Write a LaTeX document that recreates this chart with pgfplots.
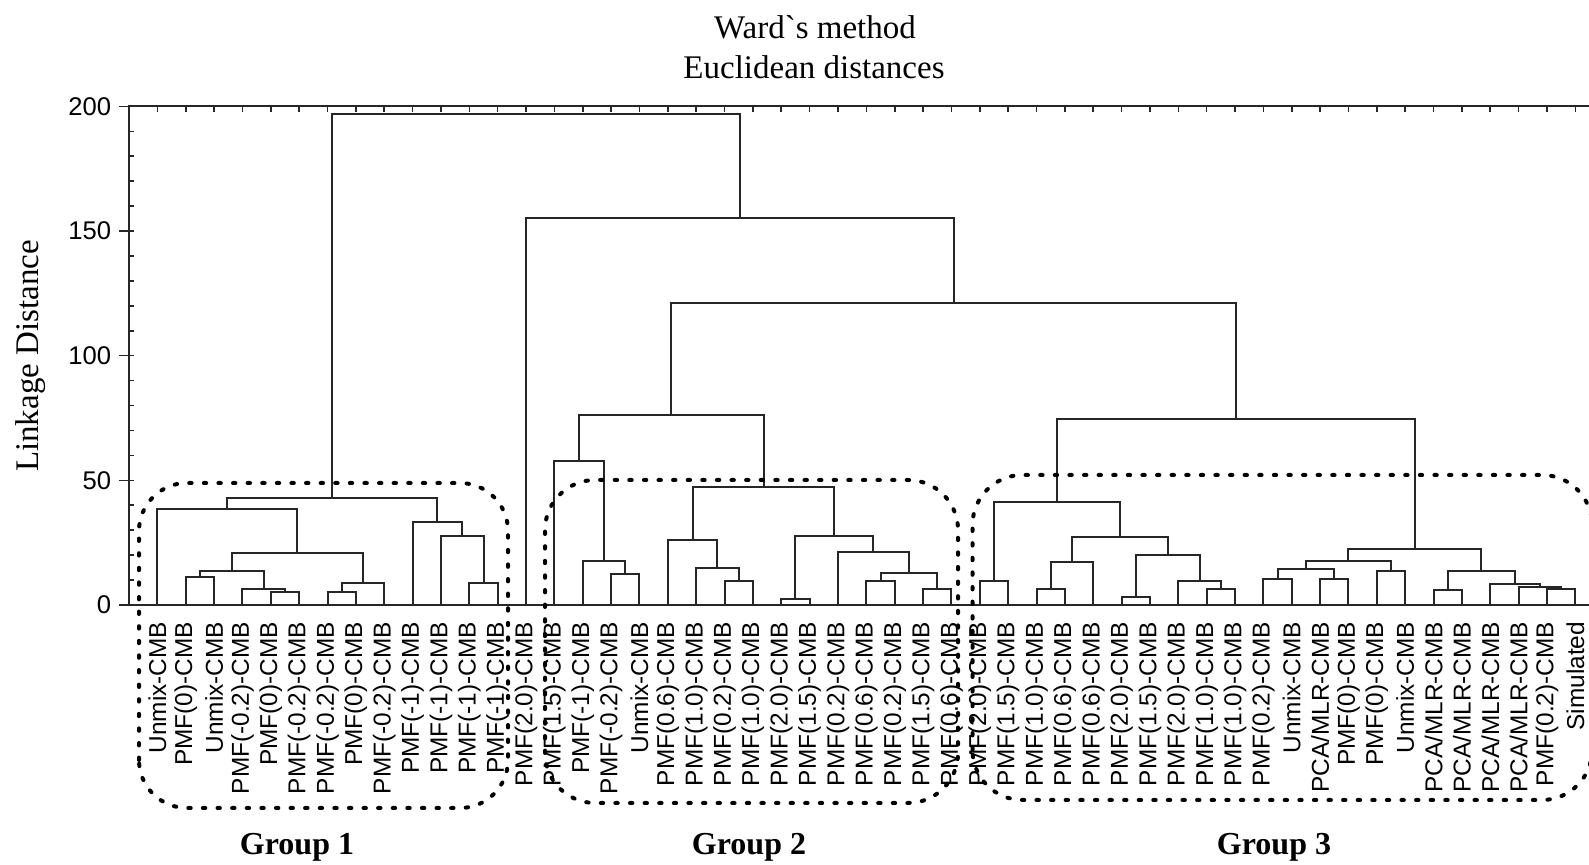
\documentclass[border=0pt]{standalone}
\usepackage{pgfplots}
\pgfplotsset{compat=1.18}
\usepackage{fontspec}
\setmainfont{Liberation Sans}
\newfontfamily\timesfont{Liberation Serif}

\begin{document}
\begin{tikzpicture}
\begin{axis}[
  at={(0pt,0pt)}, anchor=south west,
  scale only axis, width=737.36pt, height=249.3pt,
  xmin=0, xmax=52, ymin=0, ymax=200,
  clip=false,
  axis line style={black!85, line width=1pt},
  xtick={1,...,51},
  xticklabels={Unmix-CMB,PMF(0)-CMB,Unmix-CMB,PMF(-0.2)-CMB,PMF(0)-CMB,PMF(-0.2)-CMB,PMF(-0.2)-CMB,PMF(0)-CMB,PMF(-0.2)-CMB,PMF(-1)-CMB,PMF(-1)-CMB,PMF(-1)-CMB,PMF(-1)-CMB,PMF(2.0)-CMB,PMF(1.5)-CMB,PMF(-1)-CMB,PMF(-0.2)-CMB,Unmix-CMB,PMF(0.6)-CMB,PMF(1.0)-CMB,PMF(0.2)-CMB,PMF(1.0)-CMB,PMF(2.0)-CMB,PMF(1.5)-CMB,PMF(0.2)-CMB,PMF(0.6)-CMB,PMF(0.2)-CMB,PMF(1.5)-CMB,PMF(0.6)-CMB,PMF(2.0)-CMB,PMF(1.5)-CMB,PMF(1.0)-CMB,PMF(0.6)-CMB,PMF(0.6)-CMB,PMF(2.0)-CMB,PMF(1.5)-CMB,PMF(2.0)-CMB,PMF(1.0)-CMB,PMF(1.0)-CMB,PMF(0.2)-CMB,Unmix-CMB,PCA/MLR-CMB,PMF(0)-CMB,PMF(0)-CMB,Unmix-CMB,PCA/MLR-CMB,PCA/MLR-CMB,PCA/MLR-CMB,PCA/MLR-CMB,PMF(0.2)-CMB,Simulated},
  major x tick style={draw=none},
  minor xtick={1,...,51},
  xticklabel style={rotate=90, anchor=east, inner sep=0pt, font=\fontsize{12.2}{14}\selectfont},
  xticklabel shift=8.3pt,
  ytick={0,50,100,150,200},
  minor ytick={10,20,...,190},
  ytick pos=left,
  tick align=inside,
  major tick length=5pt,
  minor tick length=2.7pt,
  every tick/.style={black!85, line width=0.8pt},
  major y tick style={xshift=-5pt},
  yticklabel style={inner sep=0pt, font=\fontsize{12.8}{14}\selectfont},
  yticklabel shift=8.7pt,
  /pgf/number format/assume math mode=true,
  dend/.style={black!85, line width=1pt, mark=none},
]
% ---- Group 1 ----
\addplot[dend] coordinates {(2,0) (2,11.4) (3,11.4) (3,0)};
\addplot[dend] coordinates {(5,0) (5,5.35) (6,5.35) (6,0)};
\addplot[dend] coordinates {(4,0) (4,6.4) (5.5,6.4) (5.5,5.35)};
\addplot[dend] coordinates {(2.5,11.4) (2.5,13.6) (4.75,13.6) (4.75,6.4)};
\addplot[dend] coordinates {(7,0) (7,5.35) (8,5.35) (8,0)};
\addplot[dend] coordinates {(7.5,5.35) (7.5,9.0) (9,9.0) (9,0)};
\addplot[dend] coordinates {(3.625,13.6) (3.625,20.7) (8.25,20.7) (8.25,9.0)};
\addplot[dend] coordinates {(1,0) (1,38.5) (5.9375,38.5) (5.9375,20.7)};
\addplot[dend] coordinates {(12,0) (12,9.0) (13,9.0) (13,0)};
\addplot[dend] coordinates {(11,0) (11,27.8) (12.5,27.8) (12.5,9.0)};
\addplot[dend] coordinates {(10,0) (10,33.2) (11.75,33.2) (11.75,27.8)};
\addplot[dend] coordinates {(3.46875,38.5) (3.46875,43.0) (10.875,43.0) (10.875,33.2)};
% ---- Group 2 ----
\addplot[dend] coordinates {(17,0) (17,12.4) (18,12.4) (18,0)};
\addplot[dend] coordinates {(16,0) (16,17.8) (17.5,17.8) (17.5,12.4)};
\addplot[dend] coordinates {(15,0) (15,57.9) (16.75,57.9) (16.75,17.8)};
\addplot[dend] coordinates {(21,0) (21,9.5) (22,9.5) (22,0)};
\addplot[dend] coordinates {(20,0) (20,14.8) (21.5,14.8) (21.5,9.5)};
\addplot[dend] coordinates {(19,0) (19,26.1) (20.75,26.1) (20.75,14.8)};
\addplot[dend] coordinates {(23,0) (23,2.4) (24,2.4) (24,0)};
\addplot[dend] coordinates {(26,0) (26,9.5) (27,9.5) (27,0)};
\addplot[dend] coordinates {(28,0) (28,6.55) (29,6.55) (29,0)};
\addplot[dend] coordinates {(26.5,9.5) (26.5,13.0) (28.5,13.0) (28.5,6.55)};
\addplot[dend] coordinates {(25,0) (25,21.3) (27.5,21.3) (27.5,13.0)};
\addplot[dend] coordinates {(23.5,2.4) (23.5,27.8) (26.25,27.8) (26.25,21.3)};
\addplot[dend] coordinates {(19.875,26.1) (19.875,47.2) (24.875,47.2) (24.875,27.8)};
\addplot[dend] coordinates {(15.875,57.9) (15.875,76.2) (22.375,76.2) (22.375,47.2)};
% ---- Group 3 ----
\addplot[dend] coordinates {(30,0) (30,9.5) (31,9.5) (31,0)};
\addplot[dend] coordinates {(32,0) (32,6.55) (33,6.55) (33,0)};
\addplot[dend] coordinates {(32.5,6.55) (32.5,17.1) (34,17.1) (34,0)};
\addplot[dend] coordinates {(35,0) (35,3.1) (36,3.1) (36,0)};
\addplot[dend] coordinates {(38,0) (38,6.55) (39,6.55) (39,0)};
\addplot[dend] coordinates {(37,0) (37,9.6) (38.5,9.6) (38.5,6.55)};
\addplot[dend] coordinates {(35.5,3.1) (35.5,20.1) (37.75,20.1) (37.75,9.6)};
\addplot[dend] coordinates {(33.25,17.1) (33.25,27.1) (36.625,27.1) (36.625,20.1)};
\addplot[dend] coordinates {(30.5,9.5) (30.5,41.4) (34.9375,41.4) (34.9375,27.1)};
\addplot[dend] coordinates {(40,0) (40,10.3) (41,10.3) (41,0)};
\addplot[dend] coordinates {(42,0) (42,10.3) (43,10.3) (43,0)};
\addplot[dend] coordinates {(40.5,10.3) (40.5,14.3) (42.5,14.3) (42.5,10.3)};
\addplot[dend] coordinates {(44,0) (44,13.6) (45,13.6) (45,0)};
\addplot[dend] coordinates {(41.5,14.3) (41.5,17.8) (44.5,17.8) (44.5,13.6)};
\addplot[dend] coordinates {(46,0) (46,5.9) (47,5.9) (47,0)};
\addplot[dend] coordinates {(50,0) (50,6.55) (51,6.55) (51,0)};
\addplot[dend] coordinates {(49,0) (49,7.2) (50.5,7.2) (50.5,6.55)};
\addplot[dend] coordinates {(48,0) (48,8.3) (49.75,8.3) (49.75,7.2)};
\addplot[dend] coordinates {(46.5,5.9) (46.5,13.6) (48.875,13.6) (48.875,8.3)};
\addplot[dend] coordinates {(43,17.8) (43,22.6) (47.6875,22.6) (47.6875,13.6)};
\addplot[dend] coordinates {(32.71875,41.4) (32.71875,74.5) (45.34375,74.5) (45.34375,22.6)};
% ---- upper levels ----
\addplot[dend] coordinates {(19.125,76.2) (19.125,121.0) (39.03125,121.0) (39.03125,74.5)};
\addplot[dend] coordinates {(14,0) (14,155.2) (29.078125,155.2) (29.078125,121.0)};
\addplot[dend] coordinates {(7.171875,43.0) (7.171875,196.9) (21.5390625,196.9) (21.5390625,155.2)};
\end{axis}

% titles and axis caption
\node[font=\timesfont\fontsize{16.5}{18}\selectfont] at (343pt,288.8pt) {Ward\textasciigrave s method};
\node[font=\timesfont\fontsize{16.5}{18}\selectfont] at (342.5pt,269pt) {Euclidean distances};
\node[rotate=90, font=\timesfont\fontsize{16.5}{18}\selectfont] at (-49.3pt,124.5pt) {Linkage Distance};

% cluster outlines
\tikzset{dotbox/.style={black, line width=2pt, dash pattern=on 1.2pt off 6.1pt, line cap=round}}
\draw[dotbox, rounded corners=24pt] (5pt,-101.5pt) rectangle (189.5pt,61pt);
\draw[dotbox, rounded corners=25pt] (208pt,-99pt) rectangle (414.5pt,62.5pt);
\draw[dotbox, rounded corners=25pt] (421.75pt,-97.5pt) rectangle (731.5pt,65pt);

\node[font=\timesfont\bfseries\fontsize{16}{18}\selectfont] at (84pt,-121pt) {Group 1};
\node[font=\timesfont\bfseries\fontsize{16}{18}\selectfont] at (310pt,-121pt) {Group 2};
\node[font=\timesfont\bfseries\fontsize{16}{18}\selectfont] at (572.5pt,-121pt) {Group 3};

\pgfresetboundingbox
\path[use as bounding box] (-64.5pt,-130pt) rectangle (730pt,302.5pt);
\end{tikzpicture}
\end{document}
